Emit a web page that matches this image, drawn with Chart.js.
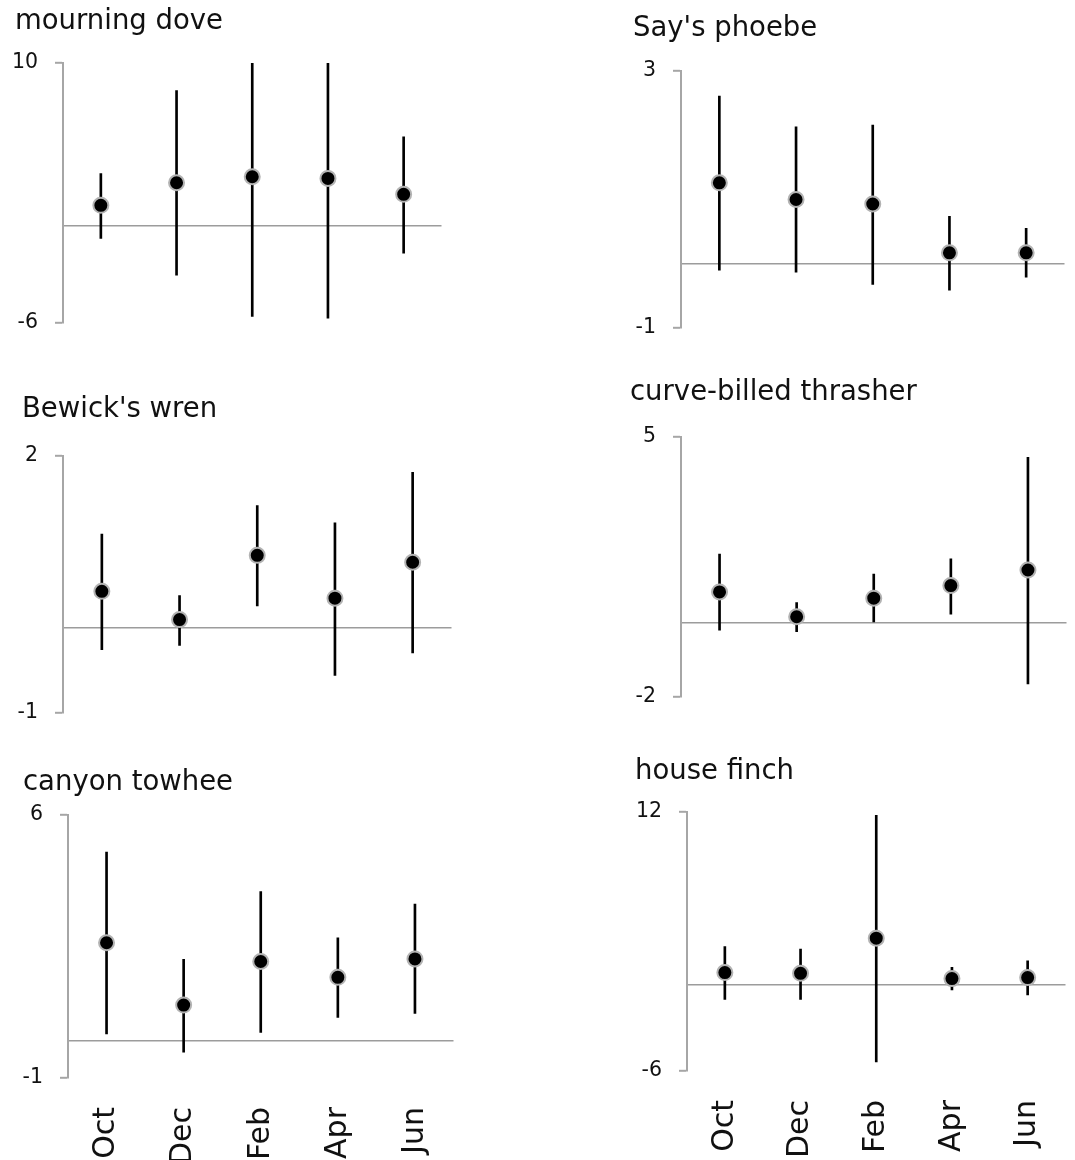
<!DOCTYPE html>
<html><head><meta charset="utf-8">
<script src="https://cdn.jsdelivr.net/npm/chart.js@4.4.1/dist/chart.umd.min.js"></script>
<style>
html,body{margin:0;padding:0;background:#fff;overflow:hidden;width:1075px;height:1160px;position:relative;}
canvas{position:absolute;}
</style></head><body>
<script>
// ---- data ----
const categories = ['Oct', 'Dec', 'Feb', 'Apr', 'Jun'];
const titles = ['mourning dove', "Say's phoebe", "Bewick's wren", 'curve-billed thrasher', 'canyon towhee', 'house finch'];

const mourningDoveMean  = [1.24, 2.63, 3.0, 2.9, 1.92];
const mourningDoveLow   = [-0.79, -3.05, -5.6, -5.7, -1.71];
const mourningDoveHigh  = [3.2, 8.3, 10, 10, 5.46];

const saysPhoebeMean    = [1.26, 1.0, 0.93, 0.17, 0.17];
const saysPhoebeLow     = [-0.10, -0.13, -0.32, -0.41, -0.21];
const saysPhoebeHigh    = [2.61, 2.13, 2.16, 0.74, 0.55];

const bewicksWrenMean   = [0.42, 0.09, 0.84, 0.34, 0.76];
const bewicksWrenLow    = [-0.26, -0.21, 0.25, -0.56, -0.30];
const bewicksWrenHigh   = [1.09, 0.37, 1.42, 1.22, 1.81];

const thrasherMean      = [0.83, 0.16, 0.66, 1.0, 1.42];
const thrasherLow       = [-0.2, -0.24, 0.0, 0.23, -1.65];
const thrasherHigh      = [1.85, 0.54, 1.31, 1.72, 4.45];

const canyonTowheeMean  = [2.6, 0.94, 2.1, 1.68, 2.17];
const canyonTowheeLow   = [0.17, -0.31, 0.21, 0.61, 0.72];
const canyonTowheeHigh  = [5.01, 2.16, 3.96, 2.73, 3.63];

const houseFinchMean    = [0.84, 0.79, 3.23, 0.42, 0.49];
const houseFinchLow     = [-1.02, -1.02, -5.37, -0.37, -0.72];
const houseFinchHigh    = [2.65, 2.47, 11.76, 1.2, 1.65];

const yMins = [-6, -1, -1, -2, -1, -6];
const yMaxs = [10, 3, 2, 5, 6, 12];

const means = [mourningDoveMean, saysPhoebeMean, bewicksWrenMean, thrasherMean, canyonTowheeMean, houseFinchMean];
const lows  = [mourningDoveLow, saysPhoebeLow, bewicksWrenLow, thrasherLow, canyonTowheeLow, houseFinchLow];
const highs = [mourningDoveHigh, saysPhoebeHigh, bewicksWrenHigh, thrasherHigh, canyonTowheeHigh, houseFinchHigh];

// ---- layout (page pixels): titleLeft, canvasTop, plotLeft, plotRight, plotTop, plotBottom, showX ----
const panelLayout = [
  [15, 5, 63, 443, 63, 323, false],
  [633, 12, 681, 1066, 71, 328, false],
  [22, 393, 63, 453, 456, 713, false],
  [630, 376, 681, 1068, 437, 697, false],
  [23, 766, 68, 455, 815, 1078, true],
  [635, 755, 687, 1067, 812, 1071, true]
];

const FONT = 'DejaVu Sans';
const TITLE_SIZE = 27.5;
const TITLE_LINE = TITLE_SIZE * 1.2;
const LEFT_PAD = 12;
const RIGHT_PAD = 8;
const BOTTOM_PAD = 32;
const X_AXIS_H = 90;
const AXIS_GRAY = '#a6a6a6';
const ZERO_GRAY = '#9c9c9c';

panelLayout.forEach((L, i) => {
  const [titleLeft, top, pLeft, pRight, pTop, pBottom, showX] = L;
  const left = titleLeft - LEFT_PAD;
  const width = pRight - left + RIGHT_PAD;
  const height = pBottom - top + (showX ? X_AXIS_H : BOTTOM_PAD);
  const canvas = document.createElement('canvas');
  canvas.width = width; canvas.height = height;
  canvas.style.left = left + 'px'; canvas.style.top = top + 'px';
  canvas.style.width = width + 'px'; canvas.style.height = height + 'px';
  document.body.appendChild(canvas);

  const yMin = yMins[i], yMax = yMaxs[i];
  const yAxisW = pLeft - titleLeft;
  const titleGap = pTop - top - TITLE_LINE;

  new Chart(canvas, {
    type: 'bar',
    data: {
      labels: categories,
      datasets: [
        {
          type: 'line', data: means[i], showLine: false,
          pointRadius: 7.5, pointHoverRadius: 7.5,
          pointBackgroundColor: '#000', pointBorderColor: '#b3b3b3', pointBorderWidth: 2,
          order: 0, clip: false
        },
        {
          type: 'bar', data: lows[i].map((lo, k) => [lo, highs[i][k]]),
          backgroundColor: '#000', borderWidth: 0, barThickness: 2, order: 1
        }
      ]
    },
    options: {
      responsive: false, animation: false, devicePixelRatio: 1, events: [],
      layout: { padding: { left: LEFT_PAD, top: 0, right: RIGHT_PAD, bottom: showX ? 0 : BOTTOM_PAD } },
      plugins: {
        legend: { display: false }, tooltip: { enabled: false },
        title: {
          display: true, text: titles[i], align: 'start', color: '#111',
          font: { family: FONT, size: TITLE_SIZE, weight: 'normal', lineHeight: 1.2 },
          padding: { top: 0, bottom: titleGap }
        }
      },
      scales: {
        x: {
          display: showX, offset: true,
          afterFit: s => { if (showX) s.height = X_AXIS_H; },
          border: { display: false },
          grid: { display: true, drawOnChartArea: false, color: 'rgba(0,0,0,0)', tickColor: 'rgba(0,0,0,0)', tickLength: 29 },
          ticks: { autoSkip: false, maxRotation: 90, minRotation: 90, padding: 0, color: '#111', font: { family: FONT, size: 30 } }
        },
        y: {
          min: yMin, max: yMax,
          afterBuildTicks: s => { s.ticks = [{ value: yMin }, { value: 0 }, { value: yMax }]; },
          afterFit: s => {
            s.width = yAxisW;
            // let tick labels extend past the (narrow) axis box instead of being clipped
            s._computeLabelArea = () => undefined;
          },
          border: { display: true, color: AXIS_GRAY, width: 2 },
          grid: {
            drawOnChartArea: true, tickLength: 8, tickWidth: 2, lineWidth: 1.6,
            color: c => (c.tick && c.tick.value === 0) ? ZERO_GRAY : 'rgba(0,0,0,0)',
            tickColor: c => (c.tick && c.tick.value === 0) ? 'rgba(0,0,0,0)' : AXIS_GRAY
          },
          ticks: {
            padding: 17, color: '#111', font: { family: FONT, size: 20.5 },
            callback: v => v === 0 ? '' : String(v)
          }
        }
      }
    }
  });
});
</script>
</body></html>
